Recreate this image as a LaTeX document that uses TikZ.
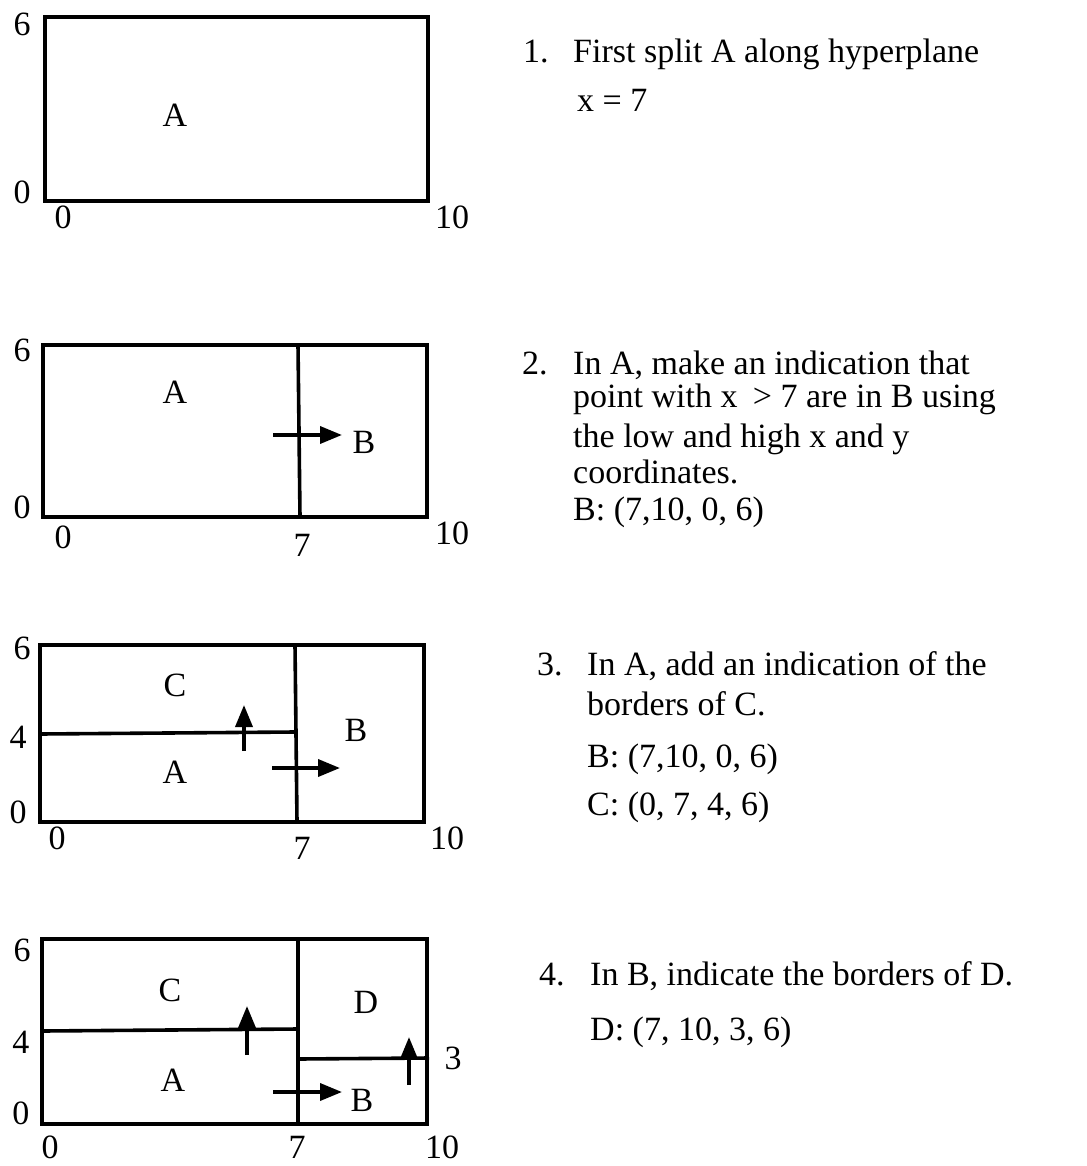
\documentclass[tikz,border=0pt]{standalone}
\usepackage{fontspec}
\setmainfont{Liberation Serif}
\usetikzlibrary{arrows.meta}
\tikzset{
  box/.style={line width=3.6pt, line join=miter},
  split/.style={line width=3.6pt},
  ptr/.style={line width=3.6pt, -{Triangle[length=22pt,width=17pt]}},
  lab/.style={inner sep=0pt, font=\fontsize{34}{40}\selectfont},
  txt/.style={inner sep=0pt, anchor=base west, font=\fontsize{34}{40}\selectfont},
}
\begin{document}
\begin{tikzpicture}[x=1pt,y=-1pt]
\useasboundingbox (0,0) rectangle (1086,1166);
% ---------- Panel 1 ----------
\draw[box] (45,17) rectangle (428,201);
\node[lab] (p1y6) at (22,24) {6};
\node[lab] (p1y0) at (22,192) {0};
\node[lab] (p1x0) at (63,217) {0};
\node[lab] (p1x10) at (452,217) {10};
\node[lab] (p1A) at (175,115) {A};
\node[txt] (t1n) at (523,63) {1.};
\node[txt] (t1a) at (573,63) {First split A along hyperplane};
\node[txt] (t1b) at (577,112) {x = 7};
% ---------- Panel 2 ----------
\draw[box] (43,345) rectangle (427,517);
\draw[split] (298,345) -- (300,517);
\coordinate (p2s) at (273,435);
\coordinate (p2e) at (342,435);
\draw[ptr] (p2s) -- (p2e);
\node[lab] (p2y6) at (22,350) {6};
\node[lab] (p2y0) at (22,507) {0};
\node[lab] (p2x0) at (63,537) {0};
\node[lab] (p2x7) at (302,545) {7};
\node[lab] (p2x10) at (452,533) {10};
\node[lab] (p2A) at (175,392) {A};
\node[lab] (p2B) at (364,442) {B};
\node[txt] (t2n) at (522,374) {2.};
\node[txt] (t2a) at (573,374) {In A, make an indication that};
\node[txt] (t2b) at (573,407) {point with x\hspace{0.45em}> 7 are in B using};
\node[txt] (t2c) at (573,447) {the low and high x and y};
\node[txt] (t2d) at (573,483) {coordinates.};
\node[txt] (t2e) at (573,520) {B: (7,10, 0, 6)};
% ---------- Panel 3 ----------
\draw[box] (40,645) rectangle (424,822);
\draw[split] (295,645) -- (297,822);
\draw[split] (40,734) -- (295,732);
\coordinate (p3us) at (244,751);
\coordinate (p3ue) at (244,705);
\draw[ptr] (p3us) -- (p3ue);
\coordinate (p3rs) at (272,768);
\coordinate (p3re) at (340,768);
\draw[ptr] (p3rs) -- (p3re);
\node[lab] (p3y6) at (22,648) {6};
\node[lab] (p3y4) at (18,737) {4};
\node[lab] (p3y0) at (18,812) {0};
\node[lab] (p3x0) at (57,838) {0};
\node[lab] (p3x7) at (302,848) {7};
\node[lab] (p3x10) at (447,838) {10};
\node[lab] (p3C) at (175,685) {C};
\node[lab] (p3B) at (356,730) {B};
\node[lab] (p3A) at (175,772) {A};
\node[txt] (t3n) at (537,675) {3.};
\node[txt] (t3a) at (587,675) {In A, add an indication of the};
\node[txt] (t3b) at (587,715) {borders of C.};
\node[txt] (t3c) at (587,767) {B: (7,10, 0, 6)};
\node[txt] (t3d) at (587,815) {C: (0, 7, 4, 6)};
% ---------- Panel 4 ----------
\draw[box] (42,939) rectangle (427,1124);
\draw[split] (298,939) -- (298,1124);
\draw[split] (42,1031) -- (298,1029);
\draw[split] (298,1059) -- (429,1058);
\coordinate (p4us) at (247,1055);
\coordinate (p4ue) at (247,1006);
\draw[ptr] (p4us) -- (p4ue);
\coordinate (p4ds) at (409,1085);
\coordinate (p4de) at (409,1037);
\draw[ptr] (p4ds) -- (p4de);
\coordinate (p4rs) at (273,1092);
\coordinate (p4re) at (342,1092);
\draw[ptr] (p4rs) -- (p4re);
\node[lab] (p4y6) at (22,950) {6};
\node[lab] (p4y4) at (21,1042) {4};
\node[lab] (p4y0) at (21,1113) {0};
\node[lab] (p4x0) at (50,1147) {0};
\node[lab] (p4x7) at (297,1147) {7};
\node[lab] (p4x10) at (442,1147) {10};
\node[lab] (p4y3) at (453,1058) {3};
\node[lab] (p4C) at (170,990) {C};
\node[lab] (p4D) at (366,1002) {D};
\node[lab] (p4A) at (173,1080) {A};
\node[lab] (p4B) at (362,1100) {B};
\node[txt] (t4n) at (539,985) {4.};
\node[txt] (t4a) at (590,985) {In B, indicate the borders of D.};
\node[txt] (t4b) at (590,1040) {D: (7, 10, 3, 6)};
\end{tikzpicture}
\end{document}
